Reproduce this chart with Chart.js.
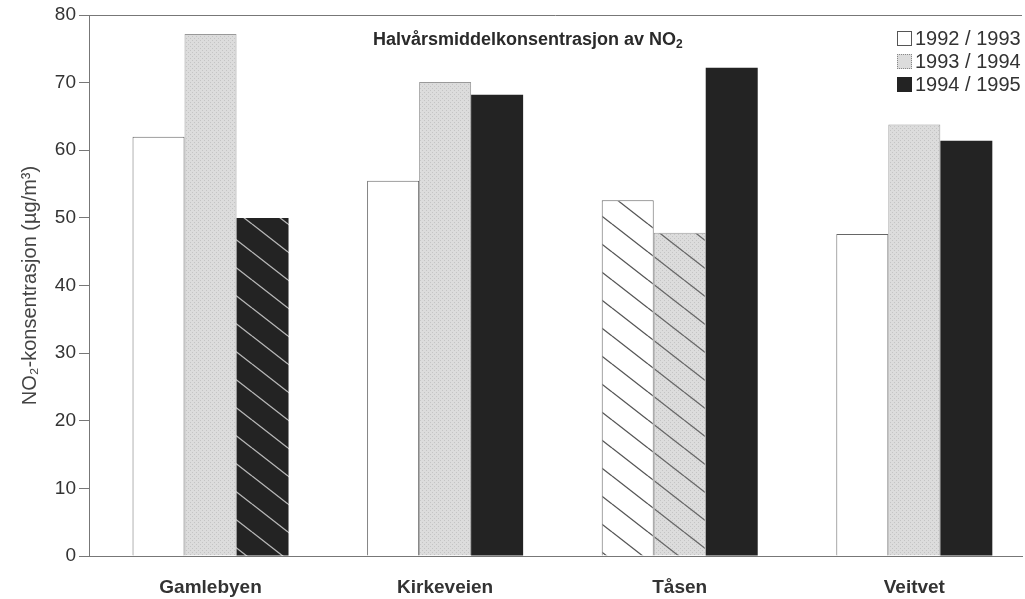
<!DOCTYPE html>
<html>
<head>
<meta charset="utf-8">
<script src="https://cdn.jsdelivr.net/npm/chart.js@4.4.1/dist/chart.umd.min.js"></script>
<style>
    body { margin: 0; background: #fff; }
    #wrap { position: relative; width: 1025px; height: 599px; }
    #tittel {
        position: absolute; left: 373px; top: 29px;
        font: bold 18px "Liberation Sans", Arial, sans-serif; color: #2a2a2a;
    }
    #tittel sub { font-size: 12px; vertical-align: -3px; line-height: 0; }
    #legende {
        position: absolute; left: 897px; top: 27px;
        font: 20px "Liberation Sans", Arial, sans-serif; color: #333;
    }
    .rad { display: flex; align-items: center; height: 23px; }
    .boks { width: 15px; height: 15px; box-sizing: border-box; margin-right: 3px; }
</style>
</head>
<body>
<div id="wrap">
    <canvas id="grafNO2" width="1025" height="599"></canvas>
    <div id="tittel">Halvårsmiddelkonsentrasjon av NO<sub>2</sub></div>
    <div id="legende"></div>
</div>
<script>
// Data lest av figuren
const stasjoner = ['Gamlebyen', 'Kirkeveien', 'Tåsen', 'Veitvet'];
const perioder = ['1992 / 1993', '1993 / 1994', '1994 / 1995'];
const verdier9293 = [62.0, 55.5, 52.6, 47.6];
const verdier9394 = [77.2, 70.1, 47.8, 63.8];
const verdier9495 = [50.0, 68.2, 72.2, 61.4];
const yTicks = [0, 10, 20, 30, 40, 50, 60, 70, 80];

// hvilke søyler som er skravert (ufullstendige perioder)
const skravert = [
    [false, false, true, false],
    [false, false, true, false],
    [true, false, false, false]
];

const FONT = '"Liberation Sans", Arial, sans-serif';

// lager et prikket grått mønster
function prikker(ctx, w, h) {
    ctx.fillStyle = '#dcdcdc';
    ctx.fillRect(0, 0, w, h);
    ctx.fillStyle = '#c4c4c4';
    for (let x = 0; x < w; x += 4) {
        for (let y = 0; y < h; y += 4) {
            ctx.fillRect(x, y, 1, 1);
            ctx.fillRect(x + 2, y + 2, 1, 1);
        }
    }
}

function lagMonster(bunn, strek, skraa) {
    const c = document.createElement('canvas');
    c.width = 36;
    c.height = 28;
    const ctx = c.getContext('2d');
    if (bunn === 'prikk') {
        prikker(ctx, 36, 28);
    } else {
        ctx.fillStyle = bunn;
        ctx.fillRect(0, 0, 36, 28);
    }
    if (skraa) {
        ctx.strokeStyle = strek;
        ctx.lineWidth = 1.3;
        [-28, 0, 28].forEach(dy => {
            ctx.beginPath();
            ctx.moveTo(0, dy);
            ctx.lineTo(36, dy + 28);
            ctx.stroke();
        });
    }
    return ctx.createPattern(c, 'repeat');
}

const hvit = '#ffffff';
const graa = lagMonster('prikk', null, false);
const svart = '#232323';
const hvitSkravert = lagMonster('#ffffff', '#555555', true);
const graaSkravert = lagMonster('prikk', '#666666', true);
const svartSkravert = lagMonster('#232323', '#b8b8b8', true);

function farger(serie, vanlig, skr) {
    return skravert[serie].map(s => s ? skr : vanlig);
}

function punkter(verdier) {
    return verdier.map((v, i) => ({ x: i, y: v }));
}

// linje langs toppen av plottet
const toppLinje = {
    id: 'toppLinje',
    afterDraw(chart) {
        const a = chart.chartArea;
        const ctx = chart.ctx;
        ctx.save();
        ctx.strokeStyle = '#777';
        ctx.lineWidth = 1;
        ctx.beginPath();
        ctx.moveTo(a.left, a.top + 0.5);
        ctx.lineTo(a.right, a.top + 0.5);
        ctx.stroke();
        ctx.restore();
    }
};

new Chart(document.getElementById('grafNO2'), {
    type: 'bar',
    data: {
        datasets: [{
            label: perioder[0],
            data: punkter(verdier9293),
            backgroundColor: farger(0, hvit, hvitSkravert),
            borderColor: '#666',
            borderWidth: 1
        }, {
            label: perioder[1],
            data: punkter(verdier9394),
            backgroundColor: farger(1, graa, graaSkravert),
            borderColor: '#999',
            borderWidth: 1
        }, {
            label: perioder[2],
            data: punkter(verdier9495),
            backgroundColor: farger(2, svart, svartSkravert),
            borderColor: '#232323',
            borderWidth: 0
        }]
    },
    options: {
        responsive: false,
        animation: false,
        layout: { padding: { top: 15, right: 3, bottom: 0, left: 0 } },
        datasets: {
            bar: { categoryPercentage: 0.665, barPercentage: 1.0 }
        },
        plugins: {
            legend: { display: false },
            tooltip: { enabled: false }
        },
        scales: {
            x: {
                type: 'linear',
                offset: false,
                min: -0.518,
                max: 3.459,
                afterBuildTicks(scale) {
                    scale.ticks = stasjoner.map((s, i) => ({ value: i }));
                },
                afterFit(scale) {
                    scale.height = 43;
                },
                grid: { display: false, offset: false },
                border: { display: true, color: '#777', width: 1 },
                ticks: {
                    color: '#333',
                    padding: 12,
                    font: { family: FONT, size: 19, weight: 'bold' },
                    callback: (v) => stasjoner[v]
                }
            },
            y: {
                min: 0,
                max: 80,
                afterBuildTicks(scale) {
                    scale.ticks = yTicks.map(v => ({ value: v }));
                },
                afterFit(scale) {
                    scale.width = 89;
                },
                grid: {
                    display: true,
                    drawOnChartArea: false,
                    drawTicks: true,
                    tickLength: 10,
                    color: '#777'
                },
                border: { display: true, color: '#777', width: 1 },
                ticks: {
                    color: '#333',
                    padding: 3,
                    font: { family: FONT, size: 19 }
                },
                title: {
                    display: true,
                    text: 'NO₂-konsentrasjon (µg/m³)',
                    color: '#444',
                    padding: { top: 18, bottom: 0 },
                    font: { family: FONT, size: 20 }
                }
            }
        }
    },
    plugins: [toppLinje]
});

// legende i øvre høyre hjørne
const legendeBokser = [
    'background:#fff;border:1px solid #555;',
    'background:#dcdcdc;border:1px dotted #888;',
    'background:#232323;border:1px solid #232323;'
];
const legende = document.getElementById('legende');
perioder.forEach((p, i) => {
    const rad = document.createElement('div');
    rad.className = 'rad';
    rad.innerHTML = `<div class="boks" style="${legendeBokser[i]}"></div><span>${p}</span>`;
    legende.appendChild(rad);
});
</script>
</body>
</html>
